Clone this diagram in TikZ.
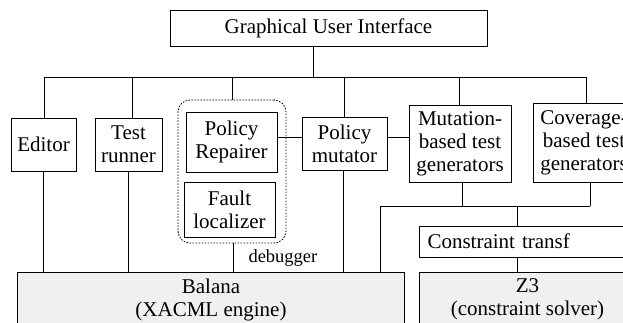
\documentclass[tikz,border=0pt]{standalone}
\usepackage{fontspec}
\setmainfont{Liberation Serif}
\usetikzlibrary{positioning}

\begin{document}
\begin{tikzpicture}[x=1pt,y=-1pt,line width=1pt,
		box/.style={draw,inner sep=2pt,align=center,font=\fontsize{21}{23}\selectfont},
		greybox/.style={draw,fill=black!6,inner sep=0pt},
		boxtext/.style={anchor=north,align=center,inner sep=2pt,yshift=-4pt,font=\fontsize{21}{23}\selectfont}]
		\clip (0,0) rectangle (623,322);
		\useasboundingbox (0,0) rectangle (623,322);

		\node[box,minimum width=317,minimum height=36] (gui) at (328.5,28) {Graphical User Interface};

		\node[box,minimum width=65,minimum height=53] (editor) at (43.5,144.5) {Editor};
		\node[box,minimum width=67,minimum height=53] (runner) at (128.5,144.5) {Test\\runner};
		\node[draw,dash pattern=on 1.6pt off 1.4pt,line width=0.8pt,rounded corners=12pt,minimum width=108,minimum height=143] (debug) at (232,171.5) {};
		\node[box,minimum width=91,minimum height=60] (repairer) at (231.5,142) {Policy\\Repairer};
		\node[box,minimum width=91,minimum height=55] (localizer) at (229.5,209.5) {Fault\\localizer};
		\node[box,minimum width=85,minimum height=53] (mutator) at (344.5,143.5) {Policy\\mutator};
		\node[box,minimum width=102,minimum height=77] (mutgen) at (460,143.5) {Mutation-\\based test\\generators};
		\node[box,minimum width=102,minimum height=79] (covgen) at (584,142.5) {Coverage-\\based test\\generators};

		\node[box,anchor=west,align=left,text width=210,inner xsep=8pt,minimum height=31] (transf) at (419,241.5) {Constraint transf};
		\node[anchor=base west,inner sep=0pt,font=\fontsize{18.5}{20}\selectfont] (dbglabel) at (248,262) {debugger};

		\node[greybox,minimum width=387,minimum height=64,anchor=north west] (balana) at (17,272) {};
		\node[boxtext] (balanatext) at (balana.north) {Balana\\(XACML engine)};
		\node[greybox,minimum width=216,minimum height=64,anchor=north west] (z3) at (419,272) {};
		\node[boxtext] (z3text) at (z3.north) {Z3\\(constraint solver)};

		\coordinate (busL) at (44,77);
		\coordinate (busR) at (586,77);
		\coordinate (stem) at (313,77);
		\coordinate (joinL) at (380,206);
		\coordinate (joinR) at (590,206);
		\coordinate (joinM) at (517,206);

		\draw (stem |- gui.south) -- (stem);
		\draw (busL) -- (busR);
		\draw (editor.north -| busL) -- (busL);
		\draw ([xshift=3.5pt]runner.north) -- ([xshift=3.5pt]runner.north |- busL);
		\draw (debug.north) -- (debug.north |- busL);
		\draw (mutator.north) -- (mutator.north |- busL);
		\draw ([xshift=-1pt]mutgen.north) -- ([xshift=-1pt]mutgen.north |- busL);
		\draw (covgen.north -| busR) -- (busR);

		\draw ([yshift=5pt]repairer.east) -- ([yshift=5pt]repairer.east -| mutator.west);
		\draw ([yshift=6.5pt]mutator.east) -- ([yshift=6.5pt]mutator.east -| mutgen.west);

		\draw (editor.south -| 43,0) -- (balana.north -| 43,0);
		\draw (runner.south) -- (runner.south |- balana.north);
		\draw ([xshift=1pt]debug.south) -- ([xshift=1pt]debug.south |- balana.north);
		\draw ([xshift=-1.5pt]mutator.south) -- ([xshift=-1.5pt]mutator.south |- balana.north);

		\draw ([xshift=2pt]mutgen.south) -- ([xshift=2pt]mutgen.south |- joinL);
		\draw (covgen.south -| joinR) -- (joinR);
		\draw (balana.north -| joinL) -- (joinL) -- (joinR);
		\draw (joinM) -- (transf.north -| joinM);
		\draw (transf.south -| joinM) -- (z3.north -| joinM);
\end{tikzpicture}
\end{document}
